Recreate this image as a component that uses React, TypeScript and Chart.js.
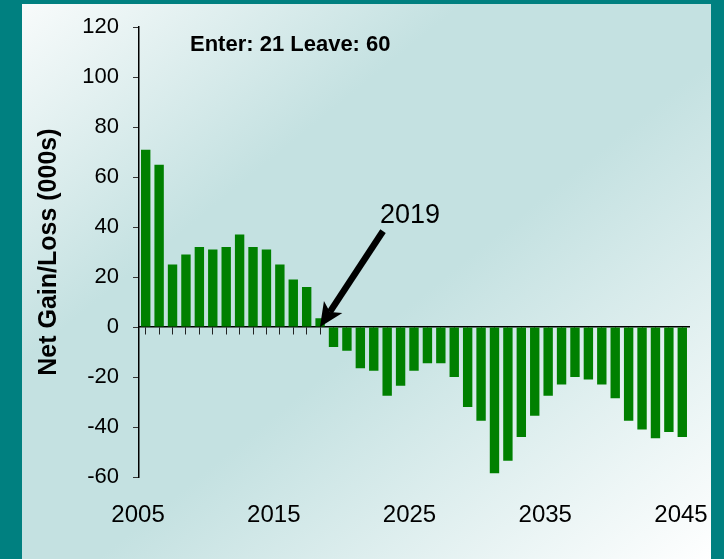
import React, { useEffect, useRef } from "react";
import { Chart, registerables } from "chart.js";

Chart.register(...registerables);

const years: string[] = [
  "2005", "2006", "2007", "2008", "2009", "2010", "2011", "2012", "2013", "2014",
  "2015", "2016", "2017", "2018", "2019", "2020", "2021", "2022", "2023", "2024",
  "2025", "2026", "2027", "2028", "2029", "2030", "2031", "2032", "2033", "2034",
  "2035", "2036", "2037", "2038", "2039", "2040", "2041", "2042", "2043", "2044",
  "2045",
];

const netGainLoss: number[] = [
  71, 65, 25, 29, 32, 31, 32, 37, 32, 31,
  25, 19, 16, 3.5, -8, -9.5, -16.5, -17.5, -27.5, -23.5,
  -17.5, -14.5, -14.5, -20, -32, -37.5, -58.5, -53.5, -44, -35.5,
  -27.5, -23, -20, -21, -23, -28.5, -37.5, -41, -44.5, -42,
  -44,
];

const shownYears: number[] = [2005, 2015, 2025, 2035, 2045];
const yearAxisMin = 2005.07;
const yearAxisMax = 2045.59;
const yMin = -60;
const yMax = 120;
const yStep = 20;
const yTitle = "Net Gain/Loss (000s)";
const noteText = "Enter: 21 Leave: 60";
const arrowText = "2019";

// annotation anchors in data coordinates (category index, value)
const noteAnchor = { i: 3.3, v: 112.8 };
const arrowTail = { i: 17.69, v: 38.4 };
const arrowTip = { i: 12.99, v: 0 };
const arrowTextAnchor = { i: 19.7, v: 44.8 };

const FONT = "'Liberation Sans', Arial, sans-serif";

const annotationPlugin = {
  id: "annotations",
  afterDatasetsDraw(chart: any) {
    const { ctx } = chart;
    const xs = chart.scales.x;
    const ys = chart.scales.y;
    const px = (p: { i: number; v: number }) => [xs.getPixelForValue(p.i), ys.getPixelForValue(p.v)];
    ctx.save();
    const [nx, ny] = px(noteAnchor);
    ctx.fillStyle = "#000";
    ctx.font = `bold 22px ${FONT}`;
    ctx.textAlign = "left";
    ctx.textBaseline = "middle";
    ctx.fillText(noteText, nx, ny);
    const [lx, ly] = px(arrowTextAnchor);
    ctx.font = `27px ${FONT}`;
    ctx.textAlign = "center";
    ctx.fillText(arrowText, lx, ly);
    const [tx, ty] = px(arrowTail);
    const [hx, hy] = px(arrowTip);
    const dx = hx - tx;
    const dy = hy - ty;
    const len = Math.sqrt(dx * dx + dy * dy);
    const ux = dx / len;
    const uy = dy / len;
    const headLen = 24;
    const headHalf = 11;
    const bx = hx - ux * headLen;
    const by = hy - uy * headLen;
    ctx.strokeStyle = "#000";
    ctx.lineWidth = 6.5;
    ctx.lineCap = "butt";
    ctx.beginPath();
    ctx.moveTo(tx, ty);
    ctx.lineTo(hx - ux * (headLen - 6), hy - uy * (headLen - 6));
    ctx.stroke();
    ctx.beginPath();
    ctx.moveTo(hx, hy);
    ctx.lineTo(bx - uy * headHalf, by + ux * headHalf);
    ctx.lineTo(hx - ux * (headLen - 6), hy - uy * (headLen - 6));
    ctx.lineTo(bx + uy * headHalf, by - ux * headHalf);
    ctx.closePath();
    ctx.fillStyle = "#000";
    ctx.fill();
    ctx.restore();
  },
};

export default function App() {
  const ref = useRef<HTMLCanvasElement | null>(null);

  useEffect(() => {
    if (!ref.current) return;
    const chart = new Chart(ref.current, {
      type: "bar",
      data: {
        labels: years,
        datasets: [
          {
            data: netGainLoss,
            backgroundColor: "#008000",
            borderWidth: 0,
            barPercentage: 0.7,
            categoryPercentage: 1,
          },
        ],
      },
      options: {
        responsive: false,
        animation: false,
        devicePixelRatio: 1,
        layout: { padding: { left: 34, top: 27, right: 35, bottom: 22 } },
        plugins: { legend: { display: false }, tooltip: { enabled: false }, title: { display: false } },
        scales: {
          x: {
            type: "category",
            position: { y: 0 } as any,
            offset: true,
            grid: {
              display: true,
              drawOnChartArea: false,
              drawTicks: true,
              tickLength: 7,
              offset: false,
              color: "#222",
              lineWidth: 1,
            },
            border: { display: true, color: "#000", width: 1.5 },
            ticks: { display: false },
            afterFit: (s: any) => {
              s.height = 0;
              s.paddingLeft = 0;
              s.paddingRight = 0;
            },
          },
          xYears: {
            type: "linear",
            position: "bottom",
            bounds: "data",
            offset: false,
            min: yearAxisMin,
            max: yearAxisMax,
            grid: { display: false, drawTicks: false, offset: false },
            border: { display: false },
            afterBuildTicks: (s: any) => {
              s.ticks = shownYears.map((v) => ({ value: v }));
            },
            ticks: {
              autoSkip: false,
              maxRotation: 0,
              minRotation: 0,
              padding: 24,
              color: "#000",
              font: { family: FONT, size: 24 },
              callback: (v: any) => String(v),
            },
            afterFit: (s: any) => {
              s.height = 60;
              s.paddingLeft = 0;
              s.paddingRight = 0;
            },
          },
          y: {
            type: "linear",
            position: "left",
            min: yMin,
            max: yMax,
            ticks: {
              stepSize: yStep,
              padding: 14,
              color: "#000",
              font: { family: FONT, size: 22 },
            },
            grid: {
              display: true,
              drawOnChartArea: false,
              drawTicks: true,
              tickLength: 6,
              color: "#333",
              lineWidth: 1,
            },
            border: { display: true, color: "#000", width: 1.5 },
            title: {
              display: true,
              text: yTitle,
              color: "#000",
              padding: { top: 0, bottom: 0 },
              font: { family: FONT, size: 25, weight: "bold" },
            },
            afterFit: (s: any) => {
              s.width = 105;
            },
          },
        },
      },
      plugins: [annotationPlugin],
    });
    return () => chart.destroy();
  }, []);

  return (
    <div style={{ position: "fixed", left: 0, top: 0, width: 724, height: 559, background: "#008080", overflow: "hidden" }}>
      <div
        style={{
          position: "absolute",
          left: 22,
          top: 4,
          width: 689,
          height: 560,
          background: "linear-gradient(to bottom right, #f8fbfb 0%, #c4e1e1 32%, #c4e1e1 55%, #ffffff 100%)",
        }}
      />
      <canvas ref={ref} width={724} height={559} style={{ position: "absolute", left: 0, top: 0, display: "block" }} />
    </div>
  );
}
